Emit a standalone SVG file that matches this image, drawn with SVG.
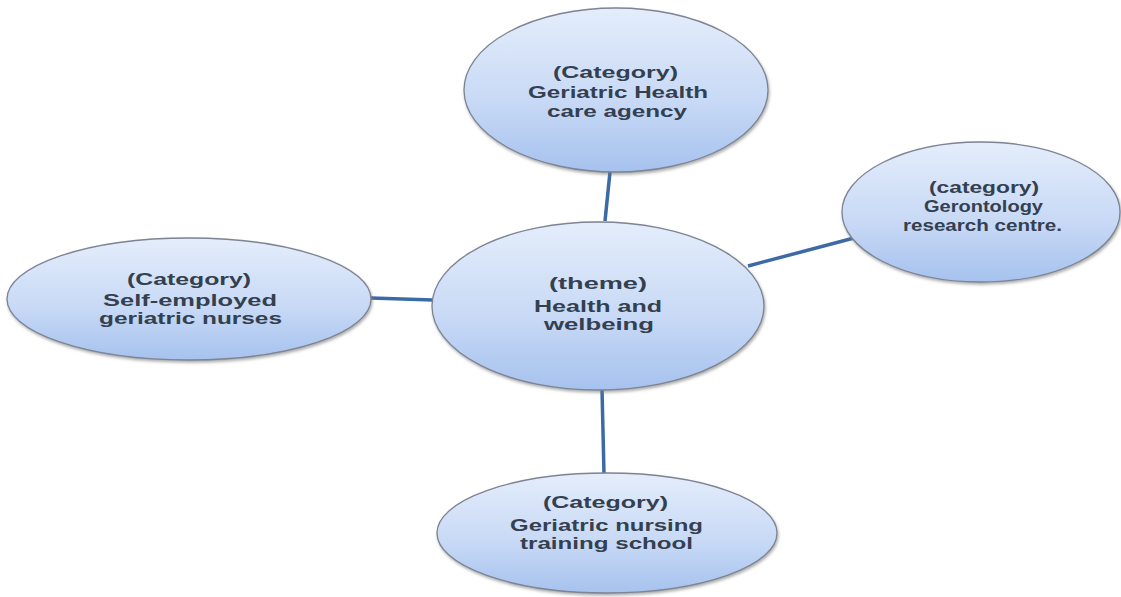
<svg xmlns="http://www.w3.org/2000/svg" width="1121" height="597" viewBox="0 0 1121 597">
<style>
.node{fill:url(#g);stroke:#7d8493;stroke-width:1.3;filter:url(#sh)}
.t{font-family:"Liberation Sans",Arial,sans-serif;font-size:16px;font-weight:bold;fill:#34404f;text-anchor:middle}
.c{stroke:#3c6aa5;stroke-width:3.5;fill:none;stroke-linecap:butt}
</style>
<defs>
<linearGradient id="g" x1="0" y1="0" x2="0" y2="1">
<stop offset="0" stop-color="#e4edfb"/>
<stop offset="0.55" stop-color="#c9daf6"/>
<stop offset="1" stop-color="#a6c2ee"/>
</linearGradient>
<filter id="sh" x="-10%" y="-10%" width="120%" height="125%">
<feDropShadow dx="1" dy="2" stdDeviation="1.5" flood-color="#777" flood-opacity="0.6"/>
</filter>
</defs>
<rect width="1121" height="597" fill="#fff"/>
<g id="connectors">
<line class="c" x1="610" y1="172" x2="605" y2="221"/>
<line class="c" x1="371" y1="298" x2="433" y2="300"/>
<line class="c" x1="748" y1="266" x2="854" y2="238"/>
<line class="c" x1="602" y1="389" x2="604" y2="474"/>
</g>
<g id="n-top">
<ellipse class="node" cx="616" cy="90" rx="152" ry="82"/>
<text class="t" x="615.5" y="78" textLength="125" lengthAdjust="spacingAndGlyphs">(Category)</text>
<text class="t" x="618" y="98" textLength="180" lengthAdjust="spacingAndGlyphs">Geriatric Health</text>
<text class="t" x="617" y="117" textLength="140" lengthAdjust="spacingAndGlyphs">care agency</text>
</g>
<g id="n-left">
<ellipse class="node" cx="189" cy="299" rx="182" ry="61"/>
<text class="t" x="189" y="285" textLength="124" lengthAdjust="spacingAndGlyphs">(Category)</text>
<text class="t" x="190" y="306" textLength="174" lengthAdjust="spacingAndGlyphs">Self-employed</text>
<text class="t" x="190.5" y="324" textLength="183" lengthAdjust="spacingAndGlyphs">geriatric nurses</text>
</g>
<g id="n-center">
<ellipse class="node" cx="598" cy="306" rx="166" ry="84"/>
<text class="t" x="598" y="289" textLength="98" lengthAdjust="spacingAndGlyphs">(theme)</text>
<text class="t" x="598" y="312" textLength="128" lengthAdjust="spacingAndGlyphs">Health and</text>
<text class="t" x="599" y="330" textLength="110" lengthAdjust="spacingAndGlyphs">welbeing</text>
</g>
<g id="n-right">
<ellipse class="node" cx="981" cy="212" rx="139" ry="70"/>
<text class="t" x="984" y="193" textLength="110" lengthAdjust="spacingAndGlyphs">(category)</text>
<text class="t" x="983.5" y="212" textLength="119" lengthAdjust="spacingAndGlyphs">Gerontology</text>
<text class="t" x="982.5" y="231" textLength="159" lengthAdjust="spacingAndGlyphs">research centre.</text>
</g>
<g id="n-bottom">
<ellipse class="node" cx="607" cy="533" rx="170" ry="60"/>
<text class="t" x="605.5" y="508" textLength="125" lengthAdjust="spacingAndGlyphs">(Category)</text>
<text class="t" x="606.5" y="531" textLength="193" lengthAdjust="spacingAndGlyphs">Geriatric nursing</text>
<text class="t" x="606.5" y="549" textLength="173" lengthAdjust="spacingAndGlyphs">training school</text>
</g>
</svg>
